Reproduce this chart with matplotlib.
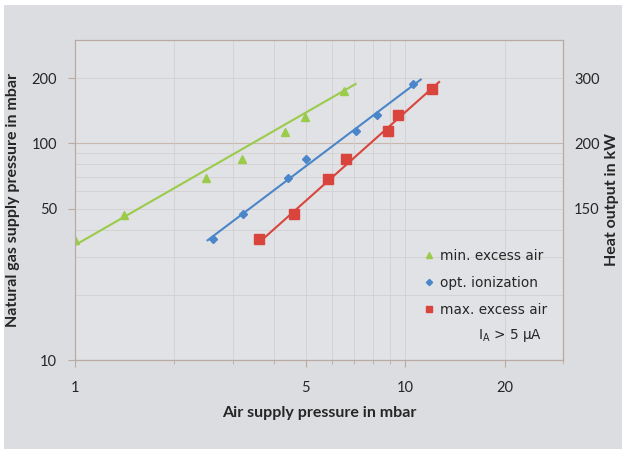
import numpy as np
import matplotlib
matplotlib.use('Agg')
import matplotlib.pyplot as plt
from matplotlib.patches import Rectangle
from matplotlib.ticker import FixedLocator, NullFormatter

# measured points (air pressure mbar, gas pressure mbar)
min_x = [1.0, 1.41, 2.50, 3.21, 4.32, 4.96, 6.54]
min_y = [35.7, 46.9, 69.2, 84.4, 112.8, 133, 175]
opt_x = [2.61, 3.22, 4.41, 5.02, 7.11, 8.19, 10.55]
opt_y = [36.0, 47.4, 69.2, 85.0, 113.6, 135.6, 188]
max_x = [3.60, 4.60, 5.85, 6.60, 8.83, 9.53, 12.08]
max_y = [36.1, 47.4, 68.8, 85.0, 113.6, 134.6, 178.7]

# power trend lines (end points)
min_line_x = [1.0, 7.07]
min_line_y = [33.9, 188]
opt_line_x = [2.52, 11.13]
opt_line_y = [35.7, 197]
max_line_x = [3.67, 12.65]
max_line_y = [35.7, 192]

left_ticks = [10, 50, 100, 200]
right_ticks = [50, 100, 200]
right_labels = ['150', '200', '300']
x_ticks = [1, 5, 10, 20]
decades = [10, 100]
light_levels = [20, 30, 40, 50, 60, 70, 80, 90, 200]

green = '#9bcb4a'
blue = '#4a86c9'
red = '#d9453d'
txt = '#262626'

fig = plt.figure(figsize=(6.22, 4.51), dpi=100)
fig.patch.set_facecolor('white')
fig.patches.append(Rectangle((4/622, 2/451), 1, 1 - 7/451, transform=fig.transFigure,
                             facecolor='#dcdde0', edgecolor='none', zorder=-10))

ax = fig.add_axes([75/622, 1 - 360/451, (563 - 75)/622, (360 - 40)/451])
ax.set_facecolor('#e1e2e5')
ax.set_xscale('log')
ax.set_yscale('log')
ax.set_xlim(1, 30)
ax.set_ylim(10, 300)

# light grid everywhere, brownish lines at decades
ax.grid(True, which='both', axis='x', color='#d2cfcf', lw=0.6)
for lv in light_levels:
    ax.axhline(lv, color='#d2cfcf', lw=0.6, zorder=0.4)
for d in decades:
    ax.axhline(d, color='#c9b8ae', lw=0.8, zorder=0.5)
ax.set_axisbelow(True)

ax.plot(min_line_x, min_line_y, color=green, lw=1.5)
ax.plot(opt_line_x, opt_line_y, color=blue, lw=1.5)
ax.plot(max_line_x, max_line_y, color=red, lw=1.5)
ax.plot(min_x, min_y, '^', color=green, ms=5.5, ls='none', label='min. excess air')
ax.plot(opt_x, opt_y, 'D', color=blue, ms=4.5, ls='none', label='opt. ionization')
ax.plot(max_x, max_y, 's', color=red, ms=6.5, ls='none', label='max. excess air')

for s in ax.spines.values():
    s.set_color('#b9aba3')
    s.set_linewidth(0.9)

ax.xaxis.set_major_locator(FixedLocator(x_ticks))
ax.set_xticklabels([str(v) for v in x_ticks])
ax.xaxis.set_minor_formatter(NullFormatter())
ax.yaxis.set_major_locator(FixedLocator(left_ticks))
ax.set_yticklabels([str(v) for v in left_ticks])
ax.yaxis.set_minor_formatter(NullFormatter())
ax.tick_params(which='both', color='#b9aba3', labelcolor=txt, labelsize=10.5)
ax.tick_params(axis='x', which='major', length=5, pad=10)
ax.tick_params(axis='y', which='major', length=5, pad=8)
ax.tick_params(which='minor', length=3)
ax.tick_params(axis='y', which='minor', length=0)
for lab in ax.get_xticklabels() + ax.get_yticklabels():
    lab.set_family('Lato')

ax.set_xlabel('Air supply pressure in mbar', family='Lato', fontweight='bold',
              fontsize=11.5, color=txt, labelpad=8)
ax.set_ylabel('Natural gas supply pressure in mbar', family='Lato', fontweight='bold',
              fontsize=11.5, color=txt, labelpad=8)

ax2 = ax.twinx()
ax2.set_yscale('log')
ax2.set_ylim(10, 300)
ax2.yaxis.set_major_locator(FixedLocator(right_ticks))
ax2.set_yticklabels(right_labels)
ax2.yaxis.set_minor_formatter(NullFormatter())
ax2.tick_params(axis='y', which='both', length=0, pad=8, labelcolor=txt, labelsize=10.5)
for lab in ax2.get_yticklabels():
    lab.set_family('Lato')
for s in ax2.spines.values():
    s.set_visible(False)
ax2.set_ylabel('Heat output in kW', family='Lato', fontweight='bold',
               fontsize=11.5, color=txt, labelpad=4)

leg = ax.legend(loc='upper left', bbox_to_anchor=(0.69, 0.385), frameon=False,
                fontsize=9.8, handlelength=0.8, handletextpad=0.4, labelspacing=0.95,
                markerscale=0.7)
for t in leg.get_texts():
    t.set_color(txt)
ax.text(0.957, 0.075, r'I$_\mathregular{A}$ > 5 µA', transform=ax.transAxes,
        ha='right', va='center', fontsize=9.8, color=txt)

fig.savefig('out.png', dpi=100, facecolor=fig.get_facecolor())
